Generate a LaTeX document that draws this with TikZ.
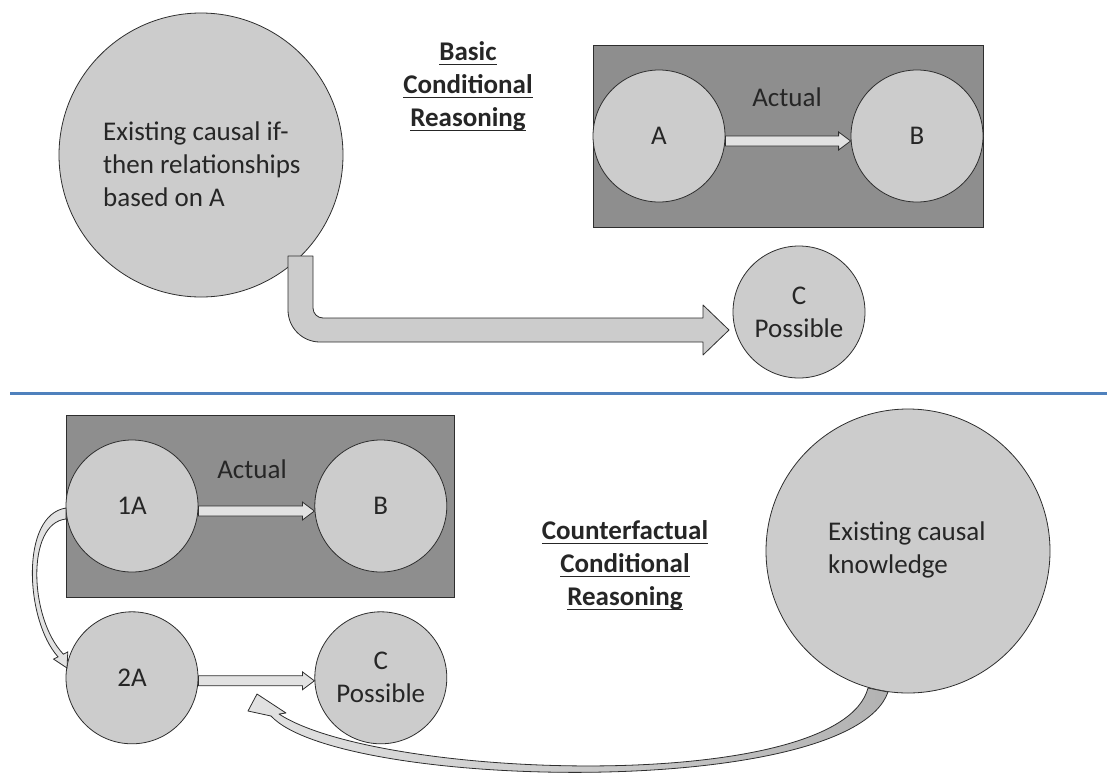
\documentclass[tikz,border=0pt]{standalone}
\usepackage{amsmath}
\usepackage{fontspec}
\setmainfont{Carlito}
\usepackage{tikz}
\usetikzlibrary{positioning,calc}

\definecolor{bubblegray}{HTML}{CCCCCC}
\definecolor{panelgray}{HTML}{8E8E8E}
\definecolor{linegray}{HTML}{2E2E2E}
\definecolor{shaftgray}{HTML}{E2E2E2}
\definecolor{ruleblue}{HTML}{4F81BD}

\newcommand{\headline}[1]{\underline{\smash[b]{#1}}}
% flat arrow from circle to circle, #1 = shift down
\newcommand{\flatarrow}[3][0]{%
  \draw[flatarr] let \p1=(#2.east), \p2=(#3.west) in
    (\x1,\y1-#1pt+5pt) -- (\x2-12pt,\y1-#1pt+5pt) -- (\x2-12pt,\y1-#1pt+9pt)
    -- (\x2,\y1-#1pt) -- (\x2-12pt,\y1-#1pt-9pt) -- (\x2-12pt,\y1-#1pt-5pt)
    -- (\x1,\y1-#1pt-5pt) -- cycle;}

\begin{document}
\begin{tikzpicture}[
  x=1pt, y=-1pt,
  every node/.style={font=\fontsize{27}{33}\selectfont, text=black!85},
  bubble/.style={circle, draw=linegray, line width=0.8pt, fill=bubblegray, minimum size=132pt, inner sep=0pt, align=center},
  bigbubble/.style={bubble, minimum size=284pt},
  panel/.style={draw=linegray, line width=0.8pt, fill=panelgray, minimum height=182pt, inner sep=0pt},
  heading/.style={font=\fontsize{27}{33}\selectfont\bfseries, align=center},
  flatarr/.style={draw=linegray, line width=0.8pt, fill=shaftgray},
  blockarr/.style={draw=linegray, line width=0.8pt, fill=bubblegray, line join=round}
]
\useasboundingbox (0,0) rectangle (1107,774);

% basic conditional reasoning
\node[bigbubble] (ifthen) at (201,155) {};
\node[align=left, anchor=west, inner sep=0pt] (ifthentxt) at (103,164) {Existing causal if-\\then relationships\\based on A};
\node[heading] (basic) at (468,87) {\headline{Basic}\\\headline{Conditional}\\\headline{Reasoning}};
\node[panel, minimum width=390pt] (toppanel) at (788,136) {};
\node[bubble, anchor=west] (a) at (toppanel.west) {A};
\node[bubble, anchor=east] (b) at (toppanel.east) {B};
\node (actualtop) at (787,97) {Actual};
\node[bubble] (c) at (799,312) {C\\Possible};
\flatarrow[5]{a}{b}
\draw[blockarr] (288,256) -- (288,310) .. controls (288,327.7) and (302.3,342) .. (320,342)
  -- (703,342) -- (703,355) -- (729,330) -- (703,305) -- (703,318) -- (323,318)
  .. controls (317.5,318) and (313,313.5) .. (313,308) -- (313,256) -- cycle;

\coordinate (ruleL) at (10,393);
\coordinate (ruleR) at (1107,393);
\draw[ruleblue, line width=3pt] (ruleL) -- (ruleR);

% counterfactual conditional reasoning
\node[panel, minimum width=388pt] (botpanel) at (260,506) {};
\node[bubble, anchor=west] (onea) at (botpanel.west) {1A};
\node[bubble, right=116pt of onea] (b2) {B};
\node (actualbot) at (252,469) {Actual};
\node[bubble, below=39pt of onea] (twoa) {2A};
\node[bubble, right=116pt of twoa] (c2) {C\\Possible};
\node[heading] (counter) at (625,566) {\headline{Counterfactual}\\\headline{Conditional}\\\headline{Reasoning}};
\node[bigbubble] (know) at (908,551) {};
\node[align=left, anchor=west, inner sep=0pt] (knowtxt) at (828,550) {Existing causal\\knowledge};
\flatarrow[5]{onea}{b2}
\flatarrow[3]{twoa}{c2}
\draw[flatarr] (66,508) .. controls (20,515) and (25,620) .. (58,656.8) -- (53.6,659.1) -- (67,668)
  -- (67.8,651.9) -- (63.4,654.2) .. controls (29,618) and (26,523) .. (66,519) -- cycle;
\draw[blockarr, left color=shaftgray, right color=black!30] (257,694) -- (286,713) -- (279,714)
  .. controls (380,780) and (840,795) .. (868,688)
  -- (888,692) .. controls (850,800) and (340,790) .. (271,716) -- (248,711) -- cycle;
\end{tikzpicture}
\end{document}
